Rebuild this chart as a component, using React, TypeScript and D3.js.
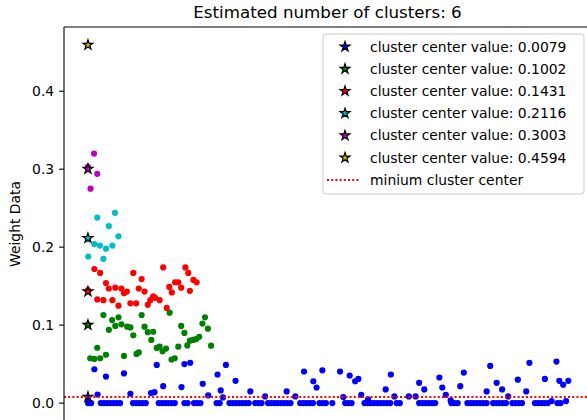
import React from "react";
import * as d3 from "d3";

// cluster centers found by mean shift, in legend order
const centers = [0.0079, 0.1002, 0.1431, 0.2116, 0.3003, 0.4594];
const clusterColors = ["#0000ff", "#008000", "#ff0000", "#00bfbf", "#bf00bf", "#bfbf00"];
const minCenter = 0.0079;
const yTicks = [0, 0.1, 0.2, 0.3, 0.4];

// points per cluster: [sample index, weight]
const bluePoints: [number, number][] = [
  [0, 0], [1, 0], [4, 0], [5, 0], [6, 0], [7, 0], [8, 0], [9, 0], [10, 0],
  [14, 0], [15, 0], [16, 0], [17, 0], [18, 0], [22, 0], [23, 0], [24, 0], [25, 0],
  [26, 0], [27, 0], [30, 0], [31, 0], [33, 0], [34, 0], [35, 0], [40, 0], [41, 0],
  [44, 0], [45, 0], [46, 0], [47, 0], [48, 0], [49, 0], [50, 0], [52, 0], [53, 0],
  [54, 0], [56, 0], [57, 0], [58, 0], [59, 0], [60, 0], [61, 0], [62, 0], [63, 0],
  [66, 0], [67, 0], [68, 0], [69, 0], [70, 0], [72, 0], [73, 0], [74, 0], [76, 0],
  [80, 0], [81, 0], [82, 0], [86, 0], [87, 0], [88, 0], [89, 0], [90, 0], [91, 0],
  [92, 0], [93, 0], [94, 0], [96, 0], [97, 0], [103, 0], [104, 0], [105, 0], [106, 0],
  [107, 0], [108, 0], [113, 0], [114, 0], [115, 0], [118, 0], [119, 0], [120, 0],
  [121, 0], [122, 0], [123, 0], [124, 0], [126, 0], [127, 0], [128, 0], [129, 0],
  [130, 0], [132, 0], [133, 0], [134, 0], [135, 0], [139, 0], [140, 0], [141, 0],
  [142, 0], [143, 0], [146, 0], [147, 0],
  [2.0, 0.0434], [5.6, 0.034], [3.0, 0.011], [11.2, 0.038], [13.2, 0.012],
  [19.6, 0.0128], [20.7, 0.014], [21.4, 0.049], [23.4, 0.0217], [29.1, 0.0205],
  [30.0, 0.05], [31.8, 0.0516], [35.7, 0.0248], [37.4, 0.0098], [40.3, 0.0367],
  [41.3, 0.0162], [42.9, 0.049], [42.0, 0.0073], [45.9, 0.0286], [50.5, 0.015],
  [55.1, 0.0085], [61.8, 0.015], [64.5, 0.0085], [67.2, 0.0405], [70.1, 0.028],
  [71.1, 0.02], [72.9, 0.042], [78.4, 0.0405], [79.4, 0.0077], [81.4, 0.0354],
  [83.1, 0.028], [84.1, 0.031], [85.0, 0.0107], [87.1, 0.0047], [92.6, 0.0175],
  [94.2, 0.0367], [95.3, 0.0086], [99.8, 0.0086], [101.9, 0.0086], [103.0, 0.026],
  [104.6, 0.0175], [109.3, 0.0328], [110.2, 0.02], [111.3, 0.0107], [112.8, 0.0034],
  [115.8, 0.0217], [116.9, 0.0392], [124.0, 0.015], [125.1, 0.0477], [127.1, 0.026],
  [128.8, 0.0175], [130.7, 0.0086], [133.7, 0.03], [136.3, 0.015], [137.3, 0.0516],
  [142.1, 0.031], [144.2, 0.0026], [145.7, 0.0533], [146.6, 0.0286], [147.8, 0.0235],
  [149.4, 0.0286], [148.7, 0.0026],
];

const greenPoints: [number, number][] = [
  [0, 0.1002], [0.7, 0.0575], [2.0, 0.0567], [2.9, 0.071], [3.8, 0.0575], [4.8, 0.113],
  [5.6, 0.062], [6.5, 0.094], [7.5, 0.1065], [8.5, 0.099], [9.5, 0.11], [10.4, 0.101],
  [11.2, 0.0605], [12.2, 0.098], [13.2, 0.097], [14.1, 0.087], [15.1, 0.063],
  [15.8, 0.065], [16.7, 0.113], [17.6, 0.098], [18.6, 0.091], [19.7, 0.081],
  [20.3, 0.0915], [21.4, 0.0707], [22.3, 0.0724], [23.2, 0.0664], [24.3, 0.0699],
  [25.4, 0.116], [26.0, 0.0558], [27.0, 0.0575], [28.1, 0.0724], [29.0, 0.099],
  [30.0, 0.09], [30.9, 0.074], [31.7, 0.08], [32.7, 0.081], [33.6, 0.082],
  [34.6, 0.085], [35.6, 0.102], [36.4, 0.11], [37.3, 0.0954], [38.3, 0.0737],
];

const redPoints: [number, number][] = [
  [0, 0.145], [2.0, 0.172], [3.8, 0.167], [2.9, 0.133], [4.8, 0.132], [5.6, 0.154],
  [6.5, 0.147], [7.6, 0.132], [8.5, 0.148], [9.5, 0.125], [10.4, 0.147], [11.2, 0.141],
  [12.1, 0.143], [13.2, 0.128], [14.1, 0.167], [15.0, 0.128], [15.8, 0.147],
  [16.7, 0.159], [17.6, 0.143], [18.6, 0.126], [19.4, 0.132], [20.3, 0.137],
  [20.9, 0.135], [22.3, 0.132], [23.4, 0.174], [24.5, 0.122], [25.3, 0.149],
  [26.1, 0.142], [27.1, 0.155], [28.1, 0.155], [29.0, 0.148], [30.3, 0.174],
  [31.2, 0.167], [31.7, 0.144], [32.8, 0.158], [33.8, 0.155],
];

const cyanPoints: [number, number][] = [
  [0.1, 0.188], [2.9, 0.238], [6.5, 0.227], [8.4, 0.244], [2.0, 0.204], [3.7, 0.202],
  [5.6, 0.198], [7.6, 0.202], [9.5, 0.214], [4.8, 0.185], [0, 0.21],
];

const magentaPoints: [number, number][] = [
  [0, 0.303], [1.9, 0.32], [2.9, 0.294], [0.8, 0.275],
];

const yellowPoints: [number, number][] = [[0, 0.4594]];

const clusters = [bluePoints, greenPoints, redPoints, cyanPoints, magentaPoints, yellowPoints];

const W = 587;
const H = 420;
const left = 64;
const right = 591;
const top = 27;
const bottom = 421;
const font = "'DejaVu Sans', sans-serif";

export default function App() {
  const lastIndex = 149;
  const x = d3.scaleLinear().domain([-0.05 * lastIndex, 1.05 * lastIndex]).range([left, right]);
  const yMax = 0.4594;
  const y = d3.scaleLinear().domain([-0.05 * yMax, 1.05 * yMax]).range([bottom, top]);
  const star = d3.symbol().type(d3.symbolStar).size(30)() as string;

  const legendX = 323;
  const legendY = 34;
  const rowH = 22.2;
  const labels = centers.map((c) => `cluster center value: ${c.toFixed(4)}`);
  const dash = "2,2.2";

  return (
    <svg width={W} height={H} style={{ position: "absolute", left: 0, top: 0, background: "#fff" }}
      fontFamily={font}>
      <rect width={W} height={H} fill="#fff" />
      <text x={(left + right) / 2} y={18} textAnchor="middle" fontSize={16.7}>
        Estimated number of clusters: 6
      </text>

      {clusters.map((pts, k) => (
        <g key={k}>
          {pts.map(([px, py], i) => (
            <circle key={i} cx={x(px)} cy={y(py)} r={3.1} fill={clusterColors[k]} />
          ))}
          <path d={star} transform={`translate(${x(0)},${y(centers[k])})`}
            fill={clusterColors[k]} stroke="#000" strokeWidth={1.2} />
        </g>
      ))}

      <line x1={left} x2={right} y1={y(minCenter)} y2={y(minCenter)}
        stroke="#ff0000" strokeWidth={2} strokeDasharray={dash} />

      {/* spines */}
      <line x1={left} x2={left} y1={top} y2={bottom} stroke="#000" strokeWidth={1.1} />
      <line x1={left} x2={right} y1={top} y2={top} stroke="#000" strokeWidth={1.1} />
      <line x1={right} x2={right} y1={top} y2={bottom} stroke="#000" strokeWidth={1.1} />

      {yTicks.map((t) => (
        <g key={t} transform={`translate(0,${y(t)})`}>
          <line x1={left - 4.9} x2={left} stroke="#000" strokeWidth={1.1} />
          <text x={left - 9.8} dy="0.35em" textAnchor="end" fontSize={13.9}>
            {t.toFixed(1)}
          </text>
        </g>
      ))}

      <text transform={`translate(19.5,${(top + bottom) / 2}) rotate(-90)`} textAnchor="middle"
        fontSize={13.9}>
        Weight Data
      </text>

      {/* legend */}
      <rect x={legendX} y={legendY} width={584 - legendX} height={194 - legendY} rx={3}
        fill="#fff" fillOpacity={0.8} stroke="#cccccc" strokeWidth={1} />
      {labels.map((l, k) => {
        const cy = legendY + 12.7 + k * rowH;
        return (
          <g key={l}>
            <path d={star} transform={`translate(345,${cy})`} fill={clusterColors[k]}
              stroke="#000" strokeWidth={1.2} />
            <text x={370} y={cy} dy="0.35em" fontSize={13.9}>{l}</text>
          </g>
        );
      })}
      <line x1={327} x2={359} y1={legendY + 12.7 + 6 * rowH} y2={legendY + 12.7 + 6 * rowH}
        stroke="#ff0000" strokeWidth={2} strokeDasharray={dash} />
      <text x={370} y={legendY + 12.7 + 6 * rowH} dy="0.35em" fontSize={13.9}>
        minium cluster center
      </text>
    </svg>
  );
}
